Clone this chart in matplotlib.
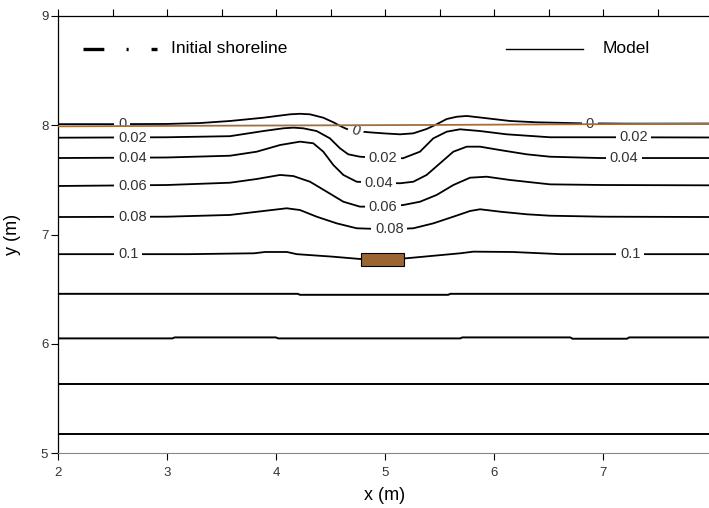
import matplotlib
matplotlib.use("Agg")
import matplotlib.pyplot as plt
from matplotlib.ticker import MultipleLocator

plt.rcParams["font.family"] = ["Liberation Sans", "DejaVu Sans"]
plt.rcParams["lines.scale_dashes"] = False

# model contour lines (x, y in m)
c000_x = [2.0, 2.5, 3.0, 3.3, 3.578, 3.884, 4.128, 4.22, 4.312, 4.434, 4.526, 4.602, 4.648,
          4.73, 4.86, 5.0, 5.138, 5.26, 5.382, 5.474, 5.566, 5.66, 5.75, 5.933, 6.147, 6.392,
          6.79, 7.2, 8.0]
c000_y = [8.01, 8.01, 8.012, 8.02, 8.039, 8.069, 8.10, 8.105, 8.1, 8.069, 8.027, 7.987, 7.966,
          7.947, 7.935, 7.925, 7.917, 7.926, 7.966, 8.009, 8.057, 8.078, 8.085, 8.064, 8.039,
          8.027, 8.018, 8.015, 8.015]

c002_x = [2.0, 3.0, 3.578, 3.884, 4.067, 4.16, 4.25, 4.373, 4.495, 4.587, 4.663, 4.77, 4.98,
          5.165, 5.321, 5.443, 5.566, 5.688, 5.872, 6.116, 6.514, 7.09, 8.0]
c002_y = [7.886, 7.89, 7.90, 7.947, 7.972, 7.978, 7.972, 7.947, 7.88, 7.789, 7.734, 7.712,
          7.70, 7.698, 7.758, 7.88, 7.941, 7.963, 7.947, 7.917, 7.89, 7.89, 7.888]

c004_x = [2.0, 3.0, 3.578, 3.823, 4.037, 4.22, 4.342, 4.434, 4.526, 4.618, 4.74, 4.94, 5.138,
          5.26, 5.382, 5.505, 5.627, 5.75, 5.872, 6.055, 6.3, 6.514, 6.97, 8.0]
c004_y = [7.70, 7.705, 7.721, 7.758, 7.819, 7.85, 7.835, 7.758, 7.636, 7.545, 7.483, 7.474,
          7.469, 7.483, 7.545, 7.652, 7.758, 7.804, 7.804, 7.773, 7.734, 7.712, 7.70, 7.70]

c006_x = [2.0, 3.0, 3.578, 3.823, 4.037, 4.159, 4.312, 4.465, 4.618, 4.77, 4.98, 5.168, 5.321,
          5.474, 5.627, 5.78, 5.933, 6.147, 6.514, 7.0, 8.0]
c006_y = [7.444, 7.453, 7.474, 7.508, 7.545, 7.535, 7.483, 7.392, 7.30, 7.255, 7.255, 7.27,
          7.30, 7.362, 7.453, 7.52, 7.529, 7.499, 7.459, 7.453, 7.45]

c008_x = [2.0, 3.0, 3.578, 3.884, 4.098, 4.22, 4.373, 4.557, 4.74, 5.04, 5.26, 5.443, 5.627,
          5.78, 5.872, 6.055, 6.3, 6.514, 7.0, 8.0]
c008_y = [7.16, 7.163, 7.179, 7.215, 7.24, 7.224, 7.163, 7.102, 7.057, 7.047, 7.057, 7.102,
          7.163, 7.215, 7.231, 7.209, 7.185, 7.172, 7.163, 7.16]

c010_x = [2.0, 3.2, 3.8, 3.9, 4.1, 4.19, 4.52, 4.77, 5.17, 5.69, 5.81, 6.17, 6.61, 8.0]
c010_y = [6.82, 6.82, 6.828, 6.84, 6.84, 6.82, 6.797, 6.776, 6.78, 6.828, 6.843, 6.84,
          6.82, 6.82]

# unlabelled offshore contours
flat_a_x = [2.0, 4.2, 4.22, 5.58, 5.6, 8.0]
flat_a_y = [6.457, 6.457, 6.448, 6.448, 6.457, 6.457]
flat_b_x = [2.0, 3.05, 3.07, 4.0, 4.02, 5.69, 5.71, 6.7, 6.72, 7.22, 7.24, 8.0]
flat_b_y = [6.049, 6.049, 6.058, 6.058, 6.049, 6.049, 6.058, 6.058, 6.046, 6.046, 6.058, 6.058]
flat_c_x = [2.0, 8.0]
flat_c_y = [5.63, 5.63]
flat_d_x = [2.0, 8.0]
flat_d_y = [5.174, 5.174]

# initial shoreline and breakwater
shore_x = [2.0, 3.2, 5.5, 6.5, 8.0]
shore_y = [7.99, 7.995, 8.003, 8.008, 8.015]
bw_x = [4.78, 5.17]
bw_y = [6.71, 6.83]

# contour labels
left_text = ["0", "0.02", "0.04", "0.06", "0.08", "0.1"]
left_y = [8.01, 7.886, 7.70, 7.444, 7.16, 6.82]
mid_text = ["0", "0.02", "0.04", "0.06", "0.08"]
mid_x = [4.73, 4.98, 4.94, 4.98, 5.04]
mid_y = [7.947, 7.70, 7.474, 7.255, 7.047]
mid_rot = [-20, 0, 0, 0, 0]
right_text = ["0", "0.02", "0.04", "0.1"]
right_x = [6.88, 7.28, 7.19, 7.25]
right_y = [8.012, 7.89, 7.70, 6.82]

fig = plt.figure(figsize=(7.09, 5.08), dpi=100)
ax = fig.add_axes([58 / 709, 55 / 508, 654 / 709, 437 / 508])

line_kw = dict(color="black", lw=1.3, zorder=2, solid_joinstyle="round")
for xs, ys in [(c000_x, c000_y), (c002_x, c002_y), (c004_x, c004_y), (c006_x, c006_y),
               (c008_x, c008_y), (c010_x, c010_y)]:
    ax.plot(xs, ys, **line_kw)
for xs, ys in [(flat_a_x, flat_a_y), (flat_b_x, flat_b_y), (flat_c_x, flat_c_y),
               (flat_d_x, flat_d_y)]:
    ax.plot(xs, ys, color="black", lw=1.4, zorder=2)

ax.plot(shore_x, shore_y, color="#a26f3d", lw=1.3, zorder=5)
ax.fill([bw_x[0], bw_x[1], bw_x[1], bw_x[0]], [bw_y[0], bw_y[0], bw_y[1], bw_y[1]],
        facecolor="#9b6433", edgecolor="black", lw=0.8, zorder=6)

lab_kw = dict(fontsize=10.5, color="#333333", va="center", zorder=3,
              bbox=dict(boxstyle="square,pad=0.25", fc="white", ec="none"))
for t, y in zip(left_text, left_y):
    ax.text(2.55, y, t, ha="left", **lab_kw)
for t, x, y, r in zip(mid_text, mid_x, mid_y, mid_rot):
    ax.text(x, y, t, ha="center", rotation=r, rotation_mode="anchor", **lab_kw)
for t, x, y in zip(right_text, right_x, right_y):
    ax.text(x, y, t, ha="center", **lab_kw)

# legend, drawn in axes coordinates
ax.plot([0.0382, 0.1514], [0.9245, 0.9245], transform=ax.transAxes, color="black", lw=2.4,
        dash_capstyle="butt", linestyle=(0, (15, 16, 1.5, 16.5)), clip_on=False)
ax.text(0.1728, 0.9245, "Initial shoreline", transform=ax.transAxes, fontsize=12.5,
        va="center", ha="left")
ax.plot([0.685, 0.8028], [0.9245, 0.9245], transform=ax.transAxes, color="black", lw=1.0)
ax.text(0.8333, 0.9245, "Model", transform=ax.transAxes, fontsize=12.5, va="center", ha="left")

ax.set_xlim(2, 8)
ax.set_ylim(5, 9)
ax.set_xticks([2, 3, 4, 5, 6, 7])
ax.set_yticks([5, 6, 7, 8, 9])
ax.xaxis.set_minor_locator(MultipleLocator(0.5))
ax.tick_params(which="major", direction="out", length=5, width=0.8, labelsize=9.5,
               labelcolor="#333333", top=True, right=False)
ax.tick_params(axis="x", which="major", pad=5)
ax.tick_params(axis="y", which="major", pad=2)
ax.tick_params(which="minor", direction="out", length=5, width=0.8, bottom=False, top=True)
ax.spines["right"].set_visible(False)
ax.spines["bottom"].set_color("#888888")
for s in ["left", "top"]:
    ax.spines[s].set_linewidth(0.9)

ax.set_xlabel("x (m)", fontsize=13)
ax.set_ylabel("y (m)", fontsize=13)
ax.xaxis.set_label_coords(0.5, -0.078)
ax.yaxis.set_label_coords(-0.0566, 0.5)

fig.savefig("out.png", dpi=100)
